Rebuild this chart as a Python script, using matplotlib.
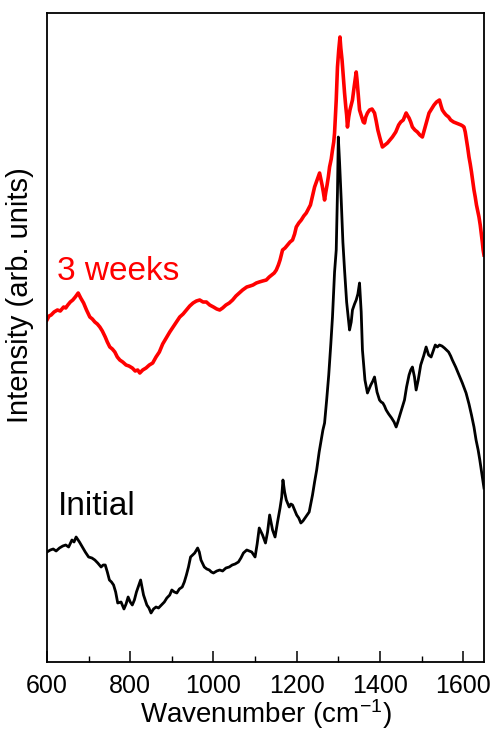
import matplotlib
matplotlib.use("Agg")
import matplotlib.pyplot as plt
from matplotlib.ticker import MultipleLocator

plt.rcParams["font.family"] = ["Liberation Sans", "DejaVu Sans"]
plt.rcParams["mathtext.fontset"] = "custom"
plt.rcParams["mathtext.rm"] = "Liberation Sans"
plt.rcParams["mathtext.it"] = "Liberation Sans:italic"

# Raman spectra, arbitrary intensity units (curves are offset vertically)
initial_wn = [600, 608, 615, 622, 630, 638, 645, 652, 660, 665, 670, 678, 685, 692, 700,
              708, 715, 722, 730, 735, 740, 745, 750, 755, 760, 765, 770, 778, 785, 790,
              795, 800, 805, 810, 815, 820, 825, 832, 840, 845, 850, 856, 862, 868, 875,
              882, 888, 895, 900, 906, 912, 918, 925, 930, 935, 940, 945, 950, 955, 962,
              966, 970, 978, 984, 990, 995, 1000, 1008, 1015, 1022, 1030, 1038, 1045,
              1052, 1060, 1066, 1072, 1080, 1086, 1092, 1100, 1105, 1110, 1118, 1125,
              1130, 1135, 1142, 1148, 1154, 1160, 1164, 1167, 1171, 1175, 1182, 1186,
              1190, 1195, 1200, 1205, 1210, 1215, 1220, 1225, 1230, 1238, 1243, 1248,
              1254, 1259, 1263, 1267, 1272, 1277, 1282, 1286, 1291, 1295, 1298, 1300,
              1303, 1307, 1311, 1315, 1320, 1327, 1331, 1334, 1339, 1343, 1347, 1351,
              1355, 1358, 1364, 1370, 1374, 1378, 1383, 1387, 1393, 1399, 1403, 1407,
              1411, 1415, 1421, 1428, 1434, 1439, 1443, 1448, 1454, 1459, 1464, 1470,
              1474, 1478, 1483, 1487, 1492, 1498, 1505, 1511, 1517, 1523, 1528, 1533,
              1538, 1543, 1549, 1555, 1560, 1565, 1570, 1574, 1582, 1590, 1598, 1607,
              1614, 1620, 1626, 1631, 1636, 1640, 1646, 1650]
initial_int = [110, 112, 113, 111, 114, 116, 117, 115, 122, 120, 125, 120, 115, 110, 105,
               104, 102, 99, 95, 97, 97, 90, 82, 80, 77, 70, 59, 60, 53, 58,
               65, 60, 57, 62, 70, 76, 82, 67, 57, 54, 49, 53, 55, 54, 57,
               60, 64, 67, 72, 70, 69, 73, 75, 80, 87, 95, 105, 107, 109, 114,
               110, 102, 95, 93, 92, 90, 89, 91, 92, 91, 94, 95, 97,
               98, 100, 104, 109, 112, 111, 110, 105, 118, 134, 127, 119,
               130, 147, 132, 125, 140, 154, 165, 182, 170, 162, 155, 158,
               157, 152, 147, 144, 139, 141, 144, 147, 150, 167, 180, 192,
               210, 222, 232, 239, 262, 287, 318, 345, 390, 412, 470, 525,
               500, 462, 420, 392, 360, 332, 340, 352, 358, 362, 368, 379,
               350, 312, 282, 269, 273, 277, 281, 285, 270, 262, 260, 259,
               256, 252, 248, 244, 240, 235, 240, 247, 255, 262, 275, 287,
               292, 295, 285, 272, 282, 297, 306, 315, 307, 305, 311, 317,
               315, 317, 316, 314, 312, 310, 306, 302, 295, 287, 279, 269,
               258, 247, 235, 222, 212, 202, 185, 174]

weeks3_wn = [600, 605, 610, 617, 625, 632, 640, 645, 650, 656, 662, 668, 675, 681, 688,
             695, 703, 709, 715, 721, 727, 733, 740, 745, 751, 757, 763, 769, 775, 782,
             790, 797, 805, 812, 818, 823, 830, 838, 846, 854, 862, 870, 878, 888, 895,
             903, 911, 919, 927, 935, 943, 951, 959, 967, 975, 983, 991, 1000, 1008,
             1015, 1022, 1030, 1038, 1046, 1054, 1062, 1070, 1080, 1088, 1095, 1103,
             1110, 1118, 1127, 1134, 1140, 1146, 1151, 1156, 1160, 1163, 1166, 1172,
             1178, 1184, 1190, 1195, 1199, 1205, 1211, 1217, 1223, 1228, 1233, 1238,
             1243, 1249, 1255, 1258, 1261, 1264, 1267, 1270, 1273, 1276, 1279, 1283,
             1286, 1289, 1291, 1293, 1295, 1298, 1301, 1304, 1306, 1309, 1312, 1315,
             1318, 1320, 1322, 1325, 1328, 1331, 1334, 1338, 1343, 1345, 1347, 1351,
             1354, 1357, 1360, 1363, 1366, 1370, 1375, 1381, 1387, 1391, 1395, 1400,
             1406, 1412, 1418, 1424, 1430, 1438, 1445, 1450, 1456, 1460, 1463, 1467,
             1470, 1474, 1478, 1484, 1490, 1496, 1502, 1506, 1510, 1514, 1518, 1524,
             1530, 1536, 1543, 1547, 1550, 1555, 1559, 1565, 1570, 1577, 1583, 1589,
             1595, 1599, 1602, 1605, 1608, 1611, 1614, 1617, 1620, 1623, 1626, 1629,
             1632, 1635, 1638, 1641, 1644, 1646, 1648, 1650]
weeks3_int = [342, 346, 347, 350, 352, 351, 355, 354, 357, 360, 362, 365, 369, 364, 359,
              352, 345, 343, 340, 338, 335, 331, 325, 320, 315, 313, 310, 305, 302, 300,
              297, 296, 294, 291, 292, 289, 292, 294, 297, 299, 305, 310, 318, 325, 330,
              335, 340, 345, 348, 352, 356, 359, 361, 362, 360, 360, 357, 355, 353,
              352, 354, 357, 359, 362, 366, 369, 372, 375, 376, 377, 379,
              380, 381, 382, 385, 387, 389, 392, 397, 402, 407, 412, 414,
              417, 420, 422, 428, 435, 439, 442, 446, 449, 453, 457, 466,
              475, 482, 489, 483, 477, 470, 462, 470, 477, 485, 495, 503,
              512, 520, 529, 545, 562, 595, 612, 625, 614, 602, 585, 569,
              555, 547, 535, 545, 552, 557, 562, 575, 590, 582, 572, 552,
              548, 544, 540, 539, 545, 549, 552, 553, 549, 541, 532, 524,
              515, 517, 519, 522, 525, 530, 537, 540, 542, 546, 549, 546,
              544, 540, 535, 532, 530, 527, 525, 531, 537, 543, 549, 553,
              557, 560, 562, 556, 552, 549, 547, 545, 542, 540, 539, 538,
              537, 536, 535, 530, 522, 514, 505, 498, 490, 481, 472, 465,
              457, 451, 445, 437, 427, 420, 412, 407]

fig = plt.figure(figsize=(4.94, 7.31), dpi=100)
ax = fig.add_axes([0.0951, 0.0944, 0.8846, 0.8878])

ax.plot(initial_wn, initial_int, color="black", lw=2.0, solid_joinstyle="round")
ax.plot(weeks3_wn, weeks3_int, color="#ff0000", lw=2.6, solid_joinstyle="round")

ax.text(624, 391, "3 weeks", color="#ff0000", fontsize=24, va="center", ha="left")
ax.text(626, 155, "Initial", color="black", fontsize=24, va="center", ha="left")

ax.set_xlim(600, 1650)
ax.set_ylim(0, 649)
ax.xaxis.set_major_locator(MultipleLocator(200))
ax.xaxis.set_minor_locator(MultipleLocator(100))
ax.tick_params(axis="x", which="major", direction="in", length=8, width=1.1,
               labelsize=18, pad=9, top=False)
ax.tick_params(axis="x", which="minor", direction="in", length=4.5, width=1.0, top=False)
ax.set_yticks([])
for sp in ax.spines.values():
    sp.set_linewidth(1.3)

ax.set_xlabel("Wavenumber (cm$^{\\mathregular{-1}}$)", fontsize=20)
ax.xaxis.set_label_coords(0.5, -0.054)
ax.set_ylabel("Intensity (arb. units)", fontsize=21)
ax.yaxis.set_label_coords(-0.03, 0.565)

fig.savefig("out.png", dpi=100)
